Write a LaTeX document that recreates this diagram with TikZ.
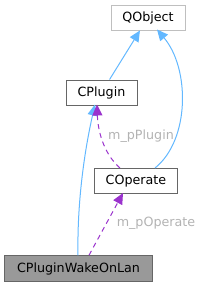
\documentclass[tikz,border=0pt]{standalone}
\usepackage{fontspec}
\setmainfont{DejaVu Sans}
\usetikzlibrary{arrows.meta}
\definecolor{inhblue}{HTML}{63B8FF}
\definecolor{usepurple}{HTML}{9A32CD}
\definecolor{lblgray}{HTML}{B3B3B3}
\definecolor{boxdark}{HTML}{666666}
\definecolor{boxlight}{HTML}{BFBFBF}
\definecolor{fillgray}{HTML}{999999}
\tikzset{
  cls/.style={draw=boxdark, line width=1pt, fill=white, minimum height=25pt, inner sep=0pt, font=\fontsize{12.7}{14}\selectfont, text=black},
  inh/.style={draw=inhblue, line width=1pt, -{Triangle[length=11pt,width=10pt,fill=inhblue]}},
  use/.style={draw=usepurple, line width=1pt, dash pattern=on 5pt off 4pt, -{Triangle[length=11pt,width=10pt,fill=usepurple]}},
  lbl/.style={text=lblgray, font=\fontsize{12.7}{14}\selectfont, inner sep=0pt}
}
\begin{document}
\begin{tikzpicture}[x=1pt,y=-1pt]
\useasboundingbox (0,0) rectangle (203,287);
\node[cls, draw=boxlight, minimum width=74pt] (QObject) at (148,17.5) {QObject};
\node[cls, minimum width=71pt] (CPlugin) at (101.5,92.5) {CPlugin};
\node[cls, minimum width=83pt] (COperate) at (136,181) {COperate};
\node[cls, fill=fillgray, minimum width=147.5pt, minimum height=25.5pt] (Wake) at (78.5,268.5) {CPluginWakeOnLan};
\draw[inh] (CPlugin) -- (QObject);
\draw[inh] ([xshift=19pt]COperate.north) .. controls +(35,-28) and +(33,39) .. ([xshift=9pt,yshift=1pt]QObject.south);
\draw[inh] ([xshift=-0.5pt]Wake.north) .. controls +(-1,-55) and +(-10,44) .. ([xshift=-6.5pt,yshift=1pt]CPlugin.south);
\draw[use] ([xshift=-16pt]COperate.north) .. controls +(-15,-13) and +(1,29) .. ([xshift=-4.5pt,yshift=1pt]CPlugin.south);
\draw[use] ([xshift=10.5pt]Wake.north) -- ([xshift=-13pt,yshift=1pt]COperate.south);
\node[lbl] (l1) at (141,136) {m\_pPlugin};
\node[lbl] (l2) at (156,223) {m\_pOperate};
\end{tikzpicture}
\end{document}
